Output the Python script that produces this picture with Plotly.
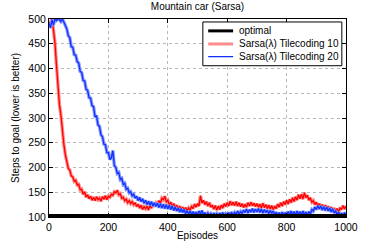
import plotly.graph_objects as go

episodes = list(range(0, 1001, 5))

optimal_steps = 103

sarsa_tc10 = [
    490, 496, 499, 478, 452, 408, 362, 328, 306, 272,
    247, 226, 214, 198, 195, 183, 181, 172, 174, 165,
    166, 155, 156, 146, 151, 140, 145, 137, 142, 134,
    140, 133, 141, 135, 138, 132, 141, 136, 143, 135,
    142, 140, 146, 144, 151, 149, 154, 145, 147, 138,
    140, 133, 136, 129, 133, 127, 131, 125, 129, 121,
    126, 118, 124, 115, 121, 117, 122, 114, 124, 118,
    127, 121, 128, 124, 133, 128, 138, 135, 142, 131,
    134, 124, 130, 121, 127, 118, 124, 116, 122, 114,
    120, 113, 119, 112, 118, 114, 121, 117, 126, 120,
    127, 122, 143, 128, 134, 125, 131, 122, 129, 120,
    124, 116, 123, 114, 122, 115, 124, 118, 127, 121,
    129, 122, 132, 124, 130, 123, 131, 122, 129, 121,
    127, 119, 126, 120, 129, 122, 130, 123, 128, 121,
    127, 120, 126, 118, 128, 119, 125, 117, 124, 116,
    123, 115, 122, 117, 126, 120, 129, 122, 131, 125,
    134, 126, 136, 129, 139, 131, 141, 134, 145, 137,
    146, 136, 149, 139, 144, 134, 139, 130, 133, 125,
    130, 121, 127, 118, 125, 116, 124, 115, 122, 114,
    120, 112, 118, 111, 117, 110, 119, 115, 123, 116,
    122,
]

sarsa_tc20 = [
    492, 482, 498, 488, 500, 497, 500, 499, 495, 500,
    494, 486, 480, 466, 462, 444, 443, 428, 427, 414,
    411, 394, 392, 376, 375, 358, 356, 341, 340, 325,
    323, 302, 305, 286, 283, 266, 262, 247, 246, 230,
    230, 216, 220, 234, 204, 200, 188, 190, 176, 178,
    166, 168, 156, 158, 149, 151, 143, 146, 138, 142,
    133, 140, 131, 137, 128, 134, 125, 132, 124, 131,
    122, 129, 121, 128, 119, 127, 118, 126, 117, 125,
    116, 124, 115, 122, 113, 120, 112, 118, 110, 117,
    109, 115, 107, 113, 106, 112, 105, 111, 104, 110,
    104, 112, 106, 113, 104, 109, 103, 108, 103, 107,
    102, 108, 103, 107, 102, 108, 103, 109, 103, 107,
    103, 109, 104, 110, 103, 109, 105, 112, 106, 111,
    107, 114, 109, 116, 108, 115, 110, 117, 109, 116,
    110, 117, 109, 116, 108, 115, 109, 114, 107, 113,
    108, 112, 104, 110, 103, 109, 102, 110, 103, 109,
    104, 111, 105, 112, 104, 111, 103, 112, 105, 111,
    104, 112, 105, 110, 104, 111, 106, 115, 112, 120,
    115, 123, 116, 122, 114, 121, 113, 120, 112, 118,
    110, 117, 108, 113, 104, 110, 103, 108, 102, 109,
    104,
]

x_ticks = [0, 200, 400, 600, 800, 1000]
y_ticks = [100, 150, 200, 250, 300, 350, 400, 450, 500]

legend_labels = ["optimal", "Sarsa(λ) Tilecoding 10", "Sarsa(λ) Tilecoding 20"]

FONT = "Liberation Sans, Arial, sans-serif"
RED, RED_LIGHT = "#ff0000", "#ff8c8c"
BLUE, BLUE_LIGHT = "#1030ff", "#8c9cff"

fig = go.Figure()
fig.add_trace(go.Scatter(x=episodes, y=sarsa_tc10, mode="lines",
                         line=dict(color=RED_LIGHT, width=3.4),
                         showlegend=False, hoverinfo="skip"))
fig.add_trace(go.Scatter(x=episodes, y=sarsa_tc10, mode="lines",
                         line=dict(color=RED, width=1.3),
                         name=legend_labels[1], showlegend=False))
fig.add_trace(go.Scatter(x=episodes, y=sarsa_tc20, mode="lines",
                         line=dict(color=BLUE_LIGHT, width=3.4),
                         showlegend=False, hoverinfo="skip"))
fig.add_trace(go.Scatter(x=episodes, y=sarsa_tc20, mode="lines",
                         line=dict(color=BLUE, width=1.3),
                         name=legend_labels[2], showlegend=False))
fig.add_trace(go.Scatter(x=[episodes[0], episodes[-1]],
                         y=[optimal_steps, optimal_steps], mode="lines",
                         line=dict(color="black", width=3),
                         name=legend_labels[0], showlegend=False))

axis_common = dict(
    showline=True, linecolor="black", linewidth=1, mirror="ticks",
    ticks="inside", ticklen=4, tickcolor="black", automargin=False,
    showgrid=True, gridcolor="#b8b8b8", griddash="dot", gridwidth=1,
    zeroline=False, tickfont=dict(size=10.5, color="black", family=FONT),
)

# Manual legend box (paper coordinates of the plot area)
lx0, lx1, ly0, ly1 = 0.518, 0.986, 0.764, 0.985
sample_x0, sample_x1, text_x = 0.536, 0.620, 0.632
row_y = [0.940, 0.874, 0.810]
sample_styles = [("black", 3), (RED_LIGHT, 3), (BLUE, 1.3)]

shapes = [dict(type="rect", xref="paper", yref="paper", x0=lx0, x1=lx1,
               y0=ly0, y1=ly1, line=dict(color="black", width=1),
               fillcolor="white", layer="above")]
annotations = []
for lab, yy, (col, w) in zip(legend_labels, row_y, sample_styles):
    shapes.append(dict(type="line", xref="paper", yref="paper",
                       x0=sample_x0, x1=sample_x1, y0=yy, y1=yy,
                       line=dict(color=col, width=w), layer="above"))
    annotations.append(dict(text=lab, xref="paper", yref="paper", x=text_x,
                            y=yy, xanchor="left", yanchor="middle",
                            showarrow=False,
                            font=dict(size=10, color="black", family=FONT)))

fig.update_layout(
    width=382, height=243,
    margin=dict(l=49, r=36, t=19, b=26),
    paper_bgcolor="white", plot_bgcolor="white",
    font=dict(family=FONT, size=10, color="black"),
    title=dict(text="Mountain car (Sarsa)", x=0.5, xref="paper",
               xanchor="center", y=0.972, yanchor="middle",
               font=dict(size=10, color="black")),
    xaxis=dict(range=[0, 1000], tickvals=x_ticks,
               title=dict(text="Episodes", standoff=0, font=dict(size=10)),
               **axis_common),
    yaxis=dict(range=[100, 500], tickvals=y_ticks,
               title=dict(text="Steps to goal (lower is better)", standoff=6,
                          font=dict(size=10)),
               **axis_common),
    shapes=shapes,
    annotations=annotations,
    showlegend=False,
)

fig.write_html(
    "out.html",
    config={"displayModeBar": False},
    post_script="document.body.style.margin='0';document.body.style.overflow='hidden';",
)
